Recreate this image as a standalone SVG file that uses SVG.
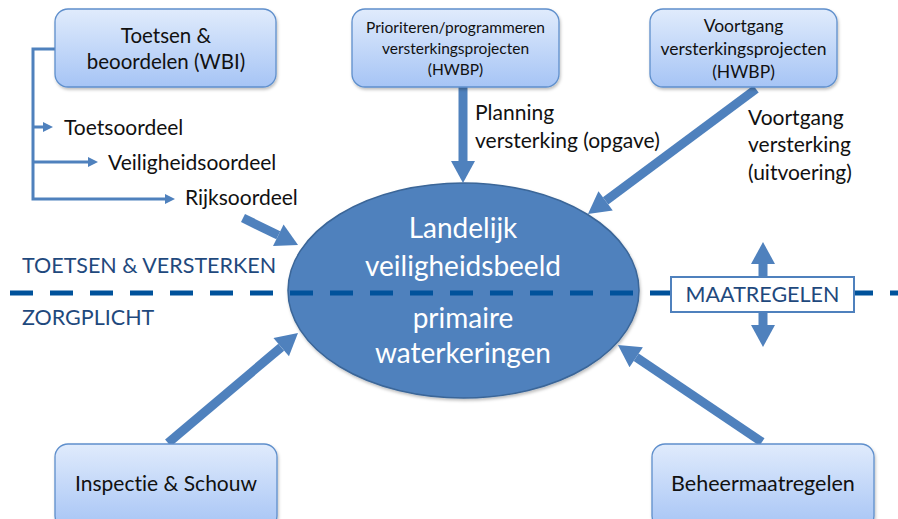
<svg xmlns="http://www.w3.org/2000/svg" width="898" height="519" viewBox="0 0 898 519">
<defs>
<linearGradient id="boxg" x1="0" y1="0" x2="0" y2="1">
<stop offset="0" stop-color="#e0ebfc"/>
<stop offset="1" stop-color="#a6c4f5"/>
</linearGradient>
<marker id="bighead" markerUnits="userSpaceOnUse" markerWidth="24" markerHeight="24" refX="0" refY="12" orient="auto" viewBox="0 0 22 24">
<path d="M0,0 L22,12 L0,24 z" fill="#4f81bd"/>
</marker>
<marker id="smallhead" markerUnits="userSpaceOnUse" markerWidth="10" markerHeight="10" refX="0" refY="5" orient="auto" viewBox="0 0 10 10">
<path d="M0,0 L10,5 L0,10 z" fill="#4f81bd"/>
</marker>
<filter id="sh" x="-20%" y="-20%" width="140%" height="140%">
<feDropShadow dx="1" dy="2" stdDeviation="1.5" flood-color="#000" flood-opacity="0.25"/>
</filter>
</defs>
<style>
text{font-variant-ligatures:none;font-feature-settings:"liga" 0,"dlig" 0}
.box{fill:url(#boxg);stroke:#5f8fcc;stroke-width:1.3}
.t{font-family:Lato,"Liberation Sans",sans-serif;fill:#111;text-anchor:middle}
.lbl{font-family:Lato,"Liberation Sans",sans-serif;fill:#111;font-size:21px}
.big{stroke:#4f81bd;stroke-width:9;fill:none;marker-end:url(#bighead)}
.small{stroke:#4f81bd;stroke-width:3;fill:none}
.sec{font-family:Lato,"Liberation Sans",sans-serif;fill:#1f497d;font-size:21.5px}
.ell{font-family:Lato,"Liberation Sans",sans-serif;fill:#fff;font-size:28px;text-anchor:middle}
</style>
<rect width="898" height="519" fill="#fff"/>

<g id="section-labels">
<text class="sec" x="22" y="273">TOETSEN &amp; VERSTERKEN</text>
<text class="sec" x="22" y="325" font-size="21">ZORGPLICHT</text>
</g>

<g id="ellipse-node">
<ellipse cx="463.5" cy="290.5" rx="175.5" ry="107.5" fill="#4f81bd" stroke="#3b6698" stroke-width="1.5" filter="url(#sh)"/>
<text class="ell" x="463" y="238">Landelijk</text>
<text class="ell" x="463" y="276">veiligheidsbeeld</text>
<text class="ell" x="463" y="328">primaire</text>
<text class="ell" x="463" y="363">waterkeringen</text>
</g>

<g id="divider">
<line x1="10" y1="293" x2="898" y2="293" stroke="#00529b" stroke-width="5" stroke-dasharray="23 17"/>
</g>

<g id="maatregelen">
<rect x="671" y="277" width="183" height="35" fill="#fff" stroke="#4f81bd" stroke-width="2"/>
<text class="sec" x="762.5" y="302" text-anchor="middle" font-size="18">MAATREGELEN</text>
</g>

<g id="connectors">
<line class="big" x1="243" y1="218" x2="278.3" y2="235.3"/>
<line class="big" x1="463" y1="87" x2="463" y2="161"/>
<line class="big" x1="756" y1="89" x2="605.6" y2="200.9"/>
<line class="big" x1="168" y1="443" x2="281.2" y2="347.2"/>
<line class="big" x1="762" y1="442" x2="636.2" y2="357.3"/>
<line class="big" x1="763" y1="277" x2="763" y2="264"/>
<line class="big" x1="763" y1="312" x2="763" y2="325"/>
<polyline class="small" points="55,49 33,49 33,199 165,199" marker-end="url(#smallhead)"/>
<line class="small" x1="33" y1="127" x2="43" y2="127" marker-end="url(#smallhead)"/>
<line class="small" x1="33" y1="162" x2="88" y2="162" marker-end="url(#smallhead)"/>
</g>

<g id="toetsen">
<rect class="box" x="55" y="9" width="221" height="78" rx="13" filter="url(#sh)"/>
<text class="t" x="166" y="43" font-size="20.5">Toetsen &amp;</text>
<text class="t" x="166" y="69" font-size="20.5">beoordelen (WBI)</text>
</g>

<g id="prioriteren">
<rect class="box" x="352" y="9" width="207" height="78" rx="13" filter="url(#sh)"/>
<text class="t" x="455.5" y="33" font-size="15.5">Prioriteren/programmeren</text>
<text class="t" x="455.5" y="54" font-size="15.5">versterkingsprojecten</text>
<text class="t" x="455.5" y="75" font-size="15.5">(HWBP)</text>
</g>

<g id="voortgang">
<rect class="box" x="650" y="9" width="187" height="78" rx="13" filter="url(#sh)"/>
<text class="t" x="743.5" y="32" font-size="17.5">Voortgang</text>
<text class="t" x="743.5" y="55" font-size="17.5">versterkingsprojecten</text>
<text class="t" x="743.5" y="78" font-size="17.5">(HWBP)</text>
</g>

<g id="inspectie">
<rect class="box" x="55" y="444" width="222" height="85" rx="13" filter="url(#sh)"/>
<text class="t" x="166" y="491" font-size="21">Inspectie &amp; Schouw</text>
</g>

<g id="beheer">
<rect class="box" x="652" y="444" width="222" height="85" rx="13" filter="url(#sh)"/>
<text class="t" x="763" y="491" font-size="21.5">Beheermaatregelen</text>
</g>

<g id="labels">
<text class="lbl" x="64" y="135">Toetsoordeel</text>
<text class="lbl" x="108" y="170">Veiligheidsoordeel</text>
<text class="lbl" x="185" y="205">Rijksoordeel</text>
<text class="lbl" x="475" y="120">Planning</text>
<text class="lbl" x="475" y="148">versterking (opgave)</text>
<text class="lbl" x="748" y="125">Voortgang</text>
<text class="lbl" x="748" y="152">versterking</text>
<text class="lbl" x="748" y="180">(uitvoering)</text>
</g>
</svg>
